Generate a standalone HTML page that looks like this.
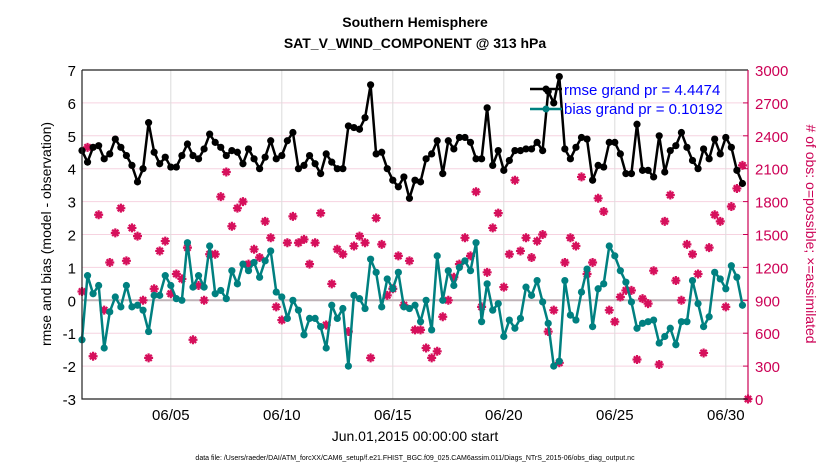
<!DOCTYPE html>
<html><head><meta charset="utf-8"><style>
body{margin:0;background:#fff;}
svg text{font-family:"Liberation Sans",Arial,sans-serif;}
</style></head><body>
<svg id="chart" width="830" height="470" viewBox="0 0 830 470" xmlns="http://www.w3.org/2000/svg">
<rect width="830" height="470" fill="#fff"/>
<g id="grid"></g>
<g id="marks"></g>
<g id="axes"></g>
<text x="415" y="27" text-anchor="middle" font-size="14" font-weight="bold">Southern Hemisphere</text>
<text x="415" y="48" text-anchor="middle" font-size="14" font-weight="bold">SAT_V_WIND_COMPONENT @ 313 hPa</text>
<text transform="translate(51,234) rotate(-90)" text-anchor="middle" font-size="14">rmse and bias (model - observation)</text>
<text transform="translate(806,234) rotate(90)" text-anchor="middle" font-size="14" fill="#cc0055"># of obs: o=possible; ×=assimilated</text>
<text x="415" y="441" text-anchor="middle" font-size="14">Jun.01,2015 00:00:00 start</text>
<text x="415" y="460" text-anchor="middle" font-size="7">data file: /Users/raeder/DAI/ATM_forcXX/CAM6_setup/f.e21.FHIST_BGC.f09_025.CAM6assim.011/Diags_NTrS_2015-06/obs_diag_output.nc</text>
<g>
<line x1="530" y1="89" x2="562" y2="89" stroke="#000" stroke-width="2.5"/>
<circle cx="546" cy="89" r="3.5" fill="#000"/>
<text x="564" y="95" font-size="15" fill="#0000ff">rmse grand pr = 4.4474</text>
<line x1="530" y1="109" x2="562" y2="109" stroke="#008080" stroke-width="2.5"/>
<circle cx="546" cy="109" r="3.5" fill="#008080"/>
<text x="564" y="114" font-size="15" fill="#0000ff">bias grand pr = 0.10192</text>
</g>
</svg>
<script>
const rmse=[4.55,4.2,4.65,4.7,4.3,4.45,4.9,4.65,4.4,4.1,3.6,4.0,5.4,4.5,4.15,4.35,4.05,4.05,4.4,4.75,4.4,4.3,4.6,5.05,4.8,4.65,4.4,4.55,4.5,4.15,4.6,4.3,4.0,4.35,4.85,4.3,4.4,4.85,5.1,4.0,
4.1,4.4,4.15,3.85,4.45,4.2,4.0,4.0,5.3,5.25,5.2,5.55,6.55,4.45,4.5,4.0,3.65,3.45,3.75,3.1,3.65,3.6,4.3,4.45,4.85,3.85,4.85,4.6,4.95,4.95,4.8,4.3,4.3,5.85,4.1,4.55,3.95,4.25,4.55,4.55,
4.6,4.6,4.8,4.55,6.35,6.0,6.8,4.6,4.3,4.65,4.95,4.9,3.65,4.1,4.05,4.8,4.8,4.45,3.85,3.85,5.35,3.95,3.95,3.75,5.0,3.9,4.55,4.7,5.1,4.65,4.25,4.0,4.6,4.3,4.9,4.45,4.95,4.65,3.95,3.55];
const bias=[-1.2,0.75,0.2,0.45,-1.45,-0.35,0.1,-0.2,0.45,-0.2,-0.15,-0.3,-0.95,0.15,0.15,0.75,0.45,0.05,0,1.75,0.4,0.75,0.4,1.65,0.2,0.3,0.05,0.9,0.5,1.1,0.9,1.15,0.7,1.2,1.5,0.25,0.1,-0.55,0,-0.3,
-1.05,-0.55,-0.55,-0.8,-1.45,-0.15,-0.55,-0.25,-2.0,0.15,0.05,-0.25,1.25,0.85,-0.2,0.65,0.35,0.85,-0.2,-0.25,-0.15,-0.65,0,-0.9,1.35,0,0.9,0.45,1.0,1.2,0.9,1.75,-0.65,0.5,-0.3,-0.1,-1.1,-0.6,-0.85,-0.55,
0.4,0.15,0.6,-0.05,-0.7,-2.0,-1.85,0.6,-0.45,-0.6,0.25,0.95,-0.8,0.35,0.5,1.65,1.35,0.9,0.55,-0.05,-0.85,-0.7,-0.65,-0.6,-1.3,-1.1,-0.85,-1.35,-0.65,-0.65,0.6,-0.1,-0.8,-0.5,0.85,0.65,0.35,1.05,0.7,-0.15];
const obsCount=[980,2295,390,1680,810,1245,1515,1740,1260,1560,1485,900,375,1005,1350,1440,960,1140,1095,1380,540,1035,900,1320,1320,1845,2070,1575,1740,1800,1230,1365,1290,1620,1470,840,720,1425,1665,1425,
1455,1230,1425,1695,675,1050,1365,1320,615,1395,1485,1425,375,1650,1410,945,1005,1305,855,1260,630,630,465,375,435,750,900,1110,1230,1470,1305,1890,840,1155,1560,1695,1020,1320,1995,1350,
1470,1290,1440,1500,615,810,330,1245,1470,1395,2025,1140,1245,1830,1710,810,705,930,990,990,360,915,870,1170,315,1620,1860,1080,900,1410,1320,1140,420,1380,1680,1620,840,1755,1920,2130,0];
const xTickDays=[4,9,14,19,24,29];
const xTickLabels=["06/05","06/10","06/15","06/20","06/25","06/30"];
const yLeftTicks=[-3,-2,-1,0,1,2,3,4,5,6,7];
const yRightTicks=[0,300,600,900,1200,1500,1800,2100,2400,2700,3000];
const stepDays=0.25;

const L=82,R=748,T=70,B=399;
const xs=d=>L+(d/30)*(R-L);
const yl=v=>B-(v+3)/10*(B-T);
const yr=c=>B-c/3000*(B-T);
const NS="http://www.w3.org/2000/svg";
function mk(tag,attrs,parent){const e=document.createElementNS(NS,tag);for(const k in attrs)e.setAttribute(k,attrs[k]);parent.appendChild(e);return e;}
const grid=document.getElementById('grid'),marks=document.getElementById('marks'),axes=document.getElementById('axes');

yLeftTicks.forEach(v=>{
  const g=mk('line',{x1:L,x2:R,y1:yl(v),y2:yl(v),stroke:'#f6d3e0','stroke-width':1},grid);
  
  
  const t=mk('text',{x:L-6,y:yl(v)+6,'text-anchor':'end','font-size':15},axes);t.textContent=v;
  
  
});
yRightTicks.forEach(c=>{
  const t=mk('text',{x:R+7,y:yr(c)+6,'font-size':15,fill:'#cc0055'},axes);t.textContent=c;
  
  
  const tk=mk('line',{x1:R-5,x2:R,y1:yr(c),y2:yr(c),stroke:'#cc0055'},axes);
  
  
});
xTickDays.forEach((d,i)=>{
  const g=mk('line',{x1:xs(d),x2:xs(d),y1:T,y2:B,stroke:'#dcdcdc','stroke-width':1},grid);
  
  
  const t=mk('text',{x:xs(d),y:B+21,'text-anchor':'middle','font-size':15},axes);t.textContent=xTickLabels[i];
  
  
});
const z=mk('line',{x1:L,x2:R,y1:yl(0),y2:yl(0),stroke:'#c0b4b8','stroke-width':2},grid);



// obs markers
function star(x,y,s){return `M${x-s},${y}L${x+s},${y}M${x},${y-s}L${x},${y+s}M${x-s*0.7},${y-s*0.7}L${x+s*0.7},${y+s*0.7}M${x-s*0.7},${y+s*0.7}L${x+s*0.7},${y-s*0.7}`;}
obsCount.forEach((c,i)=>{
  const x=xs(i*stepDays),y=yr(c);
  const p=mk('path',{d:star(x,y,4.5),stroke:'#d6105c','stroke-width':2.2,fill:'none'},marks);
  
  
  const cc=mk('circle',{cx:x,cy:y,r:3,fill:'#d6105c'},marks);
  
  
});
function series(arr,color,name){
  const pts=arr.map((v,i)=>xs(i*stepDays).toFixed(1)+','+yl(v).toFixed(1)).join(' ');
  const pl=mk('polyline',{points:pts,fill:'none',stroke:color,'stroke-width':2.5,'stroke-linejoin':'round'},marks);
  
  
  arr.forEach((v,i)=>{
    const c=mk('circle',{cx:xs(i*stepDays),cy:yl(v),r:3.6,fill:color},marks);
    
    
  });
}
series(bias,'#008080','bias');
series(rmse,'#000000','rmse');

const frame=mk('path',{d:`M${L},${T}L${R},${T}M${L},${T}L${L},${B}L${R},${B}`,stroke:'#222',fill:'none','stroke-width':1.2},axes);


const ra=mk('line',{x1:R,x2:R,y1:T,y2:B,stroke:'#cc0055','stroke-width':1.2},axes);


</script>
</body></html>
